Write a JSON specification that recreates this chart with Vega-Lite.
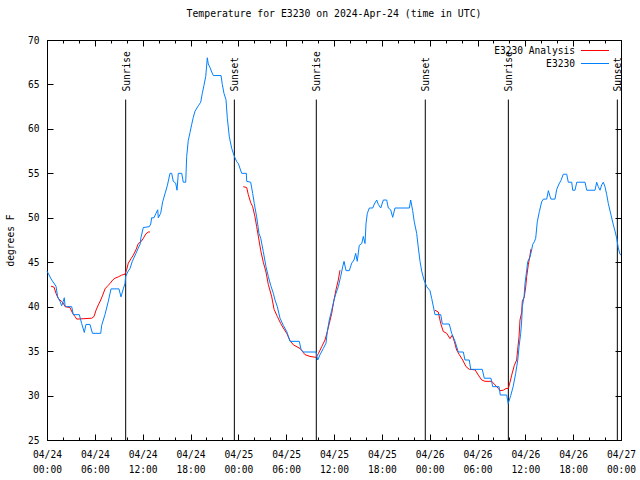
{
  "$schema": "https://vega.github.io/schema/vega-lite/v6.json",
  "width": 574,
  "height": 400,
  "autosize": {"type": "none"},
  "padding": {"left": 47, "top": 40, "right": 19, "bottom": 40},
  "background": "white",
  "title": {"text": "Temperature for E3230 on 2024-Apr-24 (time in UTC)", "anchor": "middle", "font": "DejaVu Sans Mono", "fontSize": 9.8, "fontWeight": "normal", "color": "black", "offset": 16},
  "config": {
    "view": {"stroke": "black", "strokeWidth": 1},
    "axis": {"domainColor": "black", "tickColor": "black", "labelColor": "black", "labelFont": "DejaVu Sans Mono", "labelFontSize": 9.6, "titleFont": "DejaVu Sans Mono", "titleFontSize": 9.6, "titleFontWeight": "normal", "titleColor": "black", "grid": false, "labelFlush": false, "labelOverlap": false, "labelBound": false}
  },
  "datasets": {
    "sun": [
      {"hour": 9.87, "label": "Sunrise"},
      {"hour": 23.5, "label": "Sunset"},
      {"hour": 33.78, "label": "Sunrise"},
      {"hour": 47.45, "label": "Sunset"},
      {"hour": 57.87, "label": "Sunrise"},
      {"hour": 71.54, "label": "Sunset"}
    ],
    "obs": [
      {"series":"E3230","seg":0,"hour":0,"temp":44.0},{"series":"E3230","seg":0,"hour":0.59,"temp":43.0},{"series":"E3230","seg":0,"hour":1.13,"temp":42.3},{"series":"E3230","seg":0,"hour":1.34,"temp":41.1},{"series":"E3230","seg":0,"hour":1.63,"temp":40.6},{"series":"E3230","seg":0,"hour":1.84,"temp":40.1},{"series":"E3230","seg":0,"hour":2.04,"temp":40.6},{"series":"E3230","seg":0,"hour":2.17,"temp":41.0},{"series":"E3230","seg":0,"hour":2.26,"temp":40.1},{"series":"E3230","seg":0,"hour":2.47,"temp":40.0},{"series":"E3230","seg":0,"hour":3.10,"temp":40.0},{"series":"E3230","seg":0,"hour":3.30,"temp":39.1},{"series":"E3230","seg":0,"hour":4.05,"temp":39.1},{"series":"E3230","seg":0,"hour":4.35,"temp":38.1},{"series":"E3230","seg":0,"hour":4.68,"temp":37.1},{"series":"E3230","seg":0,"hour":4.89,"temp":38.0},{"series":"E3230","seg":0,"hour":5.39,"temp":38.0},{"series":"E3230","seg":0,"hour":5.70,"temp":37.0},{"series":"E3230","seg":0,"hour":6.74,"temp":37.0},{"series":"E3230","seg":0,"hour":6.86,"temp":37.9},{"series":"E3230","seg":0,"hour":7.27,"temp":39.1},{"series":"E3230","seg":0,"hour":7.69,"temp":40.6},{"series":"E3230","seg":0,"hour":8.03,"temp":42.0},{"series":"E3230","seg":0,"hour":9.03,"temp":42.0},{"series":"E3230","seg":0,"hour":9.28,"temp":41.1},{"series":"E3230","seg":0,"hour":9.57,"temp":42.0},{"series":"E3230","seg":0,"hour":9.78,"temp":42.6},{"series":"E3230","seg":0,"hour":9.87,"temp":43.4},{"series":"E3230","seg":0,"hour":10.12,"temp":43.9},{"series":"E3230","seg":0,"hour":10.41,"temp":44.3},{"series":"E3230","seg":0,"hour":10.70,"temp":45.1},{"series":"E3230","seg":0,"hour":11.16,"temp":46.0},{"series":"E3230","seg":0,"hour":11.45,"temp":46.6},{"series":"E3230","seg":0,"hour":11.67,"temp":47.0},{"series":"E3230","seg":0,"hour":11.79,"temp":47.8},{"series":"E3230","seg":0,"hour":12.08,"temp":48.9},{"series":"E3230","seg":0,"hour":12.83,"temp":49.0},{"series":"E3230","seg":0,"hour":13.01,"temp":49.3},{"series":"E3230","seg":0,"hour":13.13,"temp":50.0},{"series":"E3230","seg":0,"hour":13.42,"temp":50.0},{"series":"E3230","seg":0,"hour":13.67,"temp":50.5},{"series":"E3230","seg":0,"hour":13.89,"temp":50.9},{"series":"E3230","seg":0,"hour":13.96,"temp":50.0},{"series":"E3230","seg":0,"hour":14.26,"temp":50.5},{"series":"E3230","seg":0,"hour":14.51,"temp":51.8},{"series":"E3230","seg":0,"hour":14.80,"temp":52.7},{"series":"E3230","seg":0,"hour":15.09,"temp":53.6},{"series":"E3230","seg":0,"hour":15.43,"temp":55.0},{"series":"E3230","seg":0,"hour":15.64,"temp":55.0},{"series":"E3230","seg":0,"hour":15.84,"temp":54.1},{"series":"E3230","seg":0,"hour":16.14,"temp":53.9},{"series":"E3230","seg":0,"hour":16.31,"temp":53.1},{"series":"E3230","seg":0,"hour":16.47,"temp":55.0},{"series":"E3230","seg":0,"hour":16.90,"temp":55.0},{"series":"E3230","seg":0,"hour":17.10,"temp":54.0},{"series":"E3230","seg":0,"hour":17.40,"temp":54.0},{"series":"E3230","seg":0,"hour":17.52,"temp":56.9},{"series":"E3230","seg":0,"hour":17.72,"temp":58.7},{"series":"E3230","seg":0,"hour":17.94,"temp":59.6},{"series":"E3230","seg":0,"hour":18.15,"temp":60.5},{"series":"E3230","seg":0,"hour":18.35,"temp":61.3},{"series":"E3230","seg":0,"hour":18.57,"temp":62.0},{"series":"E3230","seg":0,"hour":18.98,"temp":62.6},{"series":"E3230","seg":0,"hour":19.28,"temp":63.0},{"series":"E3230","seg":0,"hour":19.48,"temp":64.0},{"series":"E3230","seg":0,"hour":19.69,"temp":64.9},{"series":"E3230","seg":0,"hour":19.91,"temp":65.9},{"series":"E3230","seg":0,"hour":20.11,"temp":68.0},{"series":"E3230","seg":0,"hour":20.23,"temp":67.3},{"series":"E3230","seg":0,"hour":20.45,"temp":66.9},{"series":"E3230","seg":0,"hour":20.66,"temp":66.4},{"series":"E3230","seg":0,"hour":20.86,"temp":66.0},{"series":"E3230","seg":0,"hour":21.83,"temp":66.0},{"series":"E3230","seg":0,"hour":21.99,"temp":65.0},{"series":"E3230","seg":0,"hour":22.20,"temp":64.0},{"series":"E3230","seg":0,"hour":22.45,"temp":63.3},{"series":"E3230","seg":0,"hour":22.62,"temp":61.2},{"series":"E3230","seg":0,"hour":22.87,"temp":59.1},{"series":"E3230","seg":0,"hour":23.17,"temp":57.8},{"series":"E3230","seg":0,"hour":23.46,"temp":57.0},{"series":"E3230","seg":0,"hour":23.80,"temp":56.3},{"series":"E3230","seg":0,"hour":24.00,"temp":56.1},{"series":"E3230","seg":0,"hour":24.42,"temp":55.0},{"series":"E3230","seg":0,"hour":25.00,"temp":55.0},{"series":"E3230","seg":0,"hour":25.05,"temp":54.1},{"series":"E3230","seg":0,"hour":25.55,"temp":54.0},{"series":"E3230","seg":0,"hour":25.80,"temp":52.75},{"series":"E3230","seg":0,"hour":26.00,"temp":51.6},{"series":"E3230","seg":0,"hour":26.30,"temp":50.1},{"series":"E3230","seg":0,"hour":26.59,"temp":48.25},{"series":"E3230","seg":0,"hour":26.81,"temp":47.7},{"series":"E3230","seg":0,"hour":27.13,"temp":46.2},{"series":"E3230","seg":0,"hour":27.47,"temp":44.5},{"series":"E3230","seg":0,"hour":27.76,"temp":43.4},{"series":"E3230","seg":0,"hour":28.06,"temp":42.4},{"series":"E3230","seg":0,"hour":28.39,"temp":41.5},{"series":"E3230","seg":0,"hour":28.60,"temp":40.75},{"series":"E3230","seg":0,"hour":28.89,"temp":40.0},{"series":"E3230","seg":0,"hour":29.23,"temp":38.7},{"series":"E3230","seg":0,"hour":29.64,"temp":37.9},{"series":"E3230","seg":0,"hour":30.07,"temp":37.2},{"series":"E3230","seg":0,"hour":30.48,"temp":36.1},{"series":"E3230","seg":0,"hour":31.65,"temp":36.1},{"series":"E3230","seg":0,"hour":31.86,"temp":35.2},{"series":"E3230","seg":0,"hour":32.15,"temp":34.9},{"series":"E3230","seg":0,"hour":33.74,"temp":34.9},{"series":"E3230","seg":0,"hour":33.96,"temp":34.0},{"series":"E3230","seg":0,"hour":34.25,"temp":34.6},{"series":"E3230","seg":0,"hour":34.66,"temp":35.3},{"series":"E3230","seg":0,"hour":35.00,"temp":35.9},{"series":"E3230","seg":0,"hour":35.16,"temp":37.2},{"series":"E3230","seg":0,"hour":35.41,"temp":38.5},{"series":"E3230","seg":0,"hour":35.71,"temp":39.6},{"series":"E3230","seg":0,"hour":36.00,"temp":40.75},{"series":"E3230","seg":0,"hour":36.25,"temp":41.5},{"series":"E3230","seg":0,"hour":36.54,"temp":42.25},{"series":"E3230","seg":0,"hour":36.84,"temp":43.4},{"series":"E3230","seg":0,"hour":37.09,"temp":44.5},{"series":"E3230","seg":0,"hour":37.26,"temp":45.1},{"series":"E3230","seg":0,"hour":37.51,"temp":44.05},{"series":"E3230","seg":0,"hour":37.92,"temp":44.05},{"series":"E3230","seg":0,"hour":38.22,"temp":44.9},{"series":"E3230","seg":0,"hour":38.51,"temp":45.25},{"series":"E3230","seg":0,"hour":38.72,"temp":46.0},{"series":"E3230","seg":0,"hour":38.92,"temp":45.1},{"series":"E3230","seg":0,"hour":39.17,"temp":46.9},{"series":"E3230","seg":0,"hour":39.48,"temp":47.1},{"series":"E3230","seg":0,"hour":39.68,"temp":47.9},{"series":"E3230","seg":0,"hour":39.89,"temp":47.1},{"series":"E3230","seg":0,"hour":40.02,"temp":49.4},{"series":"E3230","seg":0,"hour":40.18,"temp":50.5},{"series":"E3230","seg":0,"hour":40.43,"temp":51.1},{"series":"E3230","seg":0,"hour":40.86,"temp":51.1},{"series":"E3230","seg":0,"hour":41.06,"temp":51.55},{"series":"E3230","seg":0,"hour":41.36,"temp":52.0},{"series":"E3230","seg":0,"hour":41.56,"temp":51.5},{"series":"E3230","seg":0,"hour":41.86,"temp":51.1},{"series":"E3230","seg":0,"hour":42.19,"temp":52.0},{"series":"E3230","seg":0,"hour":42.61,"temp":52.0},{"series":"E3230","seg":0,"hour":42.81,"temp":51.1},{"series":"E3230","seg":0,"hour":43.11,"temp":50.9},{"series":"E3230","seg":0,"hour":43.36,"temp":50.05},{"series":"E3230","seg":0,"hour":43.65,"temp":51.1},{"series":"E3230","seg":0,"hour":45.45,"temp":51.1},{"series":"E3230","seg":0,"hour":45.62,"temp":52.0},{"series":"E3230","seg":0,"hour":45.87,"temp":50.8},{"series":"E3230","seg":0,"hour":46.07,"temp":49.55},{"series":"E3230","seg":0,"hour":46.37,"temp":48.25},{"series":"E3230","seg":0,"hour":46.58,"temp":46.6},{"series":"E3230","seg":0,"hour":46.79,"temp":45.1},{"series":"E3230","seg":0,"hour":47.00,"temp":44.0},{"series":"E3230","seg":0,"hour":47.29,"temp":43.0},{"series":"E3230","seg":0,"hour":47.63,"temp":42.25},{"series":"E3230","seg":0,"hour":48.04,"temp":41.8},{"series":"E3230","seg":0,"hour":48.26,"temp":40.9},{"series":"E3230","seg":0,"hour":48.67,"temp":39.1},{"series":"E3230","seg":0,"hour":49.39,"temp":39.1},{"series":"E3230","seg":0,"hour":49.59,"temp":38.05},{"series":"E3230","seg":0,"hour":50.46,"temp":38.05},{"series":"E3230","seg":0,"hour":50.76,"temp":37.0},{"series":"E3230","seg":0,"hour":51.18,"temp":36.1},{"series":"E3230","seg":0,"hour":51.59,"temp":34.9},{"series":"E3230","seg":0,"hour":52.22,"temp":34.9},{"series":"E3230","seg":0,"hour":52.43,"temp":34.0},{"series":"E3230","seg":0,"hour":52.97,"temp":34.0},{"series":"E3230","seg":0,"hour":53.15,"temp":32.95},{"series":"E3230","seg":0,"hour":54.60,"temp":32.95},{"series":"E3230","seg":0,"hour":54.85,"temp":31.95},{"series":"E3230","seg":0,"hour":55.69,"temp":31.95},{"series":"E3230","seg":0,"hour":55.91,"temp":31.0},{"series":"E3230","seg":0,"hour":56.70,"temp":31.0},{"series":"E3230","seg":0,"hour":56.86,"temp":30.06},{"series":"E3230","seg":0,"hour":57.66,"temp":30.06},{"series":"E3230","seg":0,"hour":57.85,"temp":29.1},{"series":"E3230","seg":0,"hour":58.17,"temp":30.0},{"series":"E3230","seg":0,"hour":58.47,"temp":31.0},{"series":"E3230","seg":0,"hour":58.79,"temp":32.5},{"series":"E3230","seg":0,"hour":59.05,"temp":34.0},{"series":"E3230","seg":0,"hour":59.21,"temp":35.5},{"series":"E3230","seg":0,"hour":59.42,"temp":37.0},{"series":"E3230","seg":0,"hour":59.55,"temp":38.5},{"series":"E3230","seg":0,"hour":59.62,"temp":40.0},{"series":"E3230","seg":0,"hour":59.84,"temp":41.1},{"series":"E3230","seg":0,"hour":59.96,"temp":42.6},{"series":"E3230","seg":0,"hour":60.17,"temp":44.1},{"series":"E3230","seg":0,"hour":60.30,"temp":45.06},{"series":"E3230","seg":0,"hour":60.59,"temp":45.6},{"series":"E3230","seg":0,"hour":60.80,"temp":46.4},{"series":"E3230","seg":0,"hour":60.92,"temp":47.0},{"series":"E3230","seg":0,"hour":61.13,"temp":47.3},{"series":"E3230","seg":0,"hour":61.30,"temp":47.7},{"series":"E3230","seg":0,"hour":61.50,"temp":49.55},{"series":"E3230","seg":0,"hour":61.76,"temp":50.7},{"series":"E3230","seg":0,"hour":62.05,"temp":51.8},{"series":"E3230","seg":0,"hour":62.26,"temp":52.1},{"series":"E3230","seg":0,"hour":62.68,"temp":52.1},{"series":"E3230","seg":0,"hour":62.89,"temp":53.05},{"series":"E3230","seg":0,"hour":63.10,"temp":52.4},{"series":"E3230","seg":0,"hour":63.22,"temp":52.1},{"series":"E3230","seg":0,"hour":63.72,"temp":52.1},{"series":"E3230","seg":0,"hour":63.94,"temp":53.2},{"series":"E3230","seg":0,"hour":64.22,"temp":53.8},{"series":"E3230","seg":0,"hour":64.47,"temp":54.2},{"series":"E3230","seg":0,"hour":64.76,"temp":54.9},{"series":"E3230","seg":0,"hour":65.19,"temp":54.9},{"series":"E3230","seg":0,"hour":65.39,"temp":54.0},{"series":"E3230","seg":0,"hour":65.82,"temp":54.0},{"series":"E3230","seg":0,"hour":65.94,"temp":53.1},{"series":"E3230","seg":0,"hour":66.23,"temp":53.1},{"series":"E3230","seg":0,"hour":66.45,"temp":54.0},{"series":"E3230","seg":0,"hour":67.49,"temp":54.0},{"series":"E3230","seg":0,"hour":67.70,"temp":53.1},{"series":"E3230","seg":0,"hour":68.74,"temp":53.1},{"series":"E3230","seg":0,"hour":68.95,"temp":54.0},{"series":"E3230","seg":0,"hour":69.15,"temp":53.5},{"series":"E3230","seg":0,"hour":69.37,"temp":53.1},{"series":"E3230","seg":0,"hour":69.58,"temp":53.7},{"series":"E3230","seg":0,"hour":69.78,"temp":54.0},{"series":"E3230","seg":0,"hour":69.99,"temp":53.5},{"series":"E3230","seg":0,"hour":70.21,"temp":52.6},{"series":"E3230","seg":0,"hour":70.41,"temp":51.6},{"series":"E3230","seg":0,"hour":70.75,"temp":50.3},{"series":"E3230","seg":0,"hour":71.04,"temp":49.2},{"series":"E3230","seg":0,"hour":71.25,"temp":48.5},{"series":"E3230","seg":0,"hour":71.46,"temp":47.7},{"series":"E3230","seg":0,"hour":71.66,"temp":46.6},{"series":"E3230","seg":0,"hour":71.88,"temp":45.9},{"series":"E3230","seg":0,"hour":72.0,"temp":45.8},
      {"series":"E3230 Analysis","seg":1,"hour":0.50,"temp":42.3},{"series":"E3230 Analysis","seg":1,"hour":0.88,"temp":42.2},{"series":"E3230 Analysis","seg":1,"hour":1.13,"temp":41.5},{"series":"E3230 Analysis","seg":1,"hour":1.42,"temp":40.9},{"series":"E3230 Analysis","seg":1,"hour":1.84,"temp":40.6},{"series":"E3230 Analysis","seg":1,"hour":2.04,"temp":40.4},{"series":"E3230 Analysis","seg":1,"hour":2.26,"temp":40.0},{"series":"E3230 Analysis","seg":1,"hour":2.88,"temp":39.9},{"series":"E3230 Analysis","seg":1,"hour":3.22,"temp":39.25},{"series":"E3230 Analysis","seg":1,"hour":3.51,"temp":38.9},{"series":"E3230 Analysis","seg":1,"hour":3.73,"temp":38.6},{"series":"E3230 Analysis","seg":1,"hour":5.61,"temp":38.7},{"series":"E3230 Analysis","seg":1,"hour":5.90,"temp":38.9},{"series":"E3230 Analysis","seg":1,"hour":6.15,"temp":39.6},{"series":"E3230 Analysis","seg":1,"hour":6.44,"temp":40.2},{"series":"E3230 Analysis","seg":1,"hour":6.74,"temp":40.75},{"series":"E3230 Analysis","seg":1,"hour":6.99,"temp":41.3},{"series":"E3230 Analysis","seg":1,"hour":7.28,"temp":42.0},{"series":"E3230 Analysis","seg":1,"hour":7.56,"temp":42.3},{"series":"E3230 Analysis","seg":1,"hour":7.90,"temp":42.6},{"series":"E3230 Analysis","seg":1,"hour":8.24,"temp":43.0},{"series":"E3230 Analysis","seg":1,"hour":8.53,"temp":43.2},{"series":"E3230 Analysis","seg":1,"hour":8.94,"temp":43.35},{"series":"E3230 Analysis","seg":1,"hour":9.37,"temp":43.55},{"series":"E3230 Analysis","seg":1,"hour":9.78,"temp":43.65},{"series":"E3230 Analysis","seg":1,"hour":10.00,"temp":44.2},{"series":"E3230 Analysis","seg":1,"hour":10.20,"temp":44.9},{"series":"E3230 Analysis","seg":1,"hour":10.54,"temp":45.4},{"series":"E3230 Analysis","seg":1,"hour":10.83,"temp":45.8},{"series":"E3230 Analysis","seg":1,"hour":11.16,"temp":46.4},{"series":"E3230 Analysis","seg":1,"hour":11.45,"temp":47.1},{"series":"E3230 Analysis","seg":1,"hour":11.79,"temp":47.3},{"series":"E3230 Analysis","seg":1,"hour":12.08,"temp":47.7},{"series":"E3230 Analysis","seg":1,"hour":12.42,"temp":48.2},{"series":"E3230 Analysis","seg":1,"hour":12.71,"temp":48.4},{"series":"E3230 Analysis","seg":1,"hour":12.92,"temp":48.4},
      {"series":"E3230 Analysis","seg":2,"hour":24.62,"temp":53.5},{"series":"E3230 Analysis","seg":2,"hour":25.05,"temp":53.4},{"series":"E3230 Analysis","seg":2,"hour":25.25,"temp":52.6},{"series":"E3230 Analysis","seg":2,"hour":25.55,"temp":51.7},{"series":"E3230 Analysis","seg":2,"hour":25.80,"temp":51.25},{"series":"E3230 Analysis","seg":2,"hour":26.09,"temp":50.1},{"series":"E3230 Analysis","seg":2,"hour":26.30,"temp":49.0},{"series":"E3230 Analysis","seg":2,"hour":26.59,"temp":47.5},{"series":"E3230 Analysis","seg":2,"hour":26.81,"temp":46.3},{"series":"E3230 Analysis","seg":2,"hour":27.13,"temp":45.0},{"series":"E3230 Analysis","seg":2,"hour":27.47,"temp":43.9},{"series":"E3230 Analysis","seg":2,"hour":27.76,"temp":42.5},{"series":"E3230 Analysis","seg":2,"hour":28.19,"temp":41.1},{"series":"E3230 Analysis","seg":2,"hour":28.48,"temp":39.7},{"series":"E3230 Analysis","seg":2,"hour":28.89,"temp":38.9},{"series":"E3230 Analysis","seg":2,"hour":29.32,"temp":38.1},{"series":"E3230 Analysis","seg":2,"hour":29.64,"temp":37.6},{"series":"E3230 Analysis","seg":2,"hour":30.07,"temp":37.0},{"series":"E3230 Analysis","seg":2,"hour":30.48,"temp":36.2},{"series":"E3230 Analysis","seg":2,"hour":30.90,"temp":35.7},{"series":"E3230 Analysis","seg":2,"hour":31.74,"temp":35.3},{"series":"E3230 Analysis","seg":2,"hour":32.36,"temp":34.6},{"series":"E3230 Analysis","seg":2,"hour":32.99,"temp":34.4},{"series":"E3230 Analysis","seg":2,"hour":33.74,"temp":34.3},{"series":"E3230 Analysis","seg":2,"hour":34.03,"temp":34.7},{"series":"E3230 Analysis","seg":2,"hour":34.46,"temp":35.5},{"series":"E3230 Analysis","seg":2,"hour":34.87,"temp":36.25},{"series":"E3230 Analysis","seg":2,"hour":35.16,"temp":37.2},{"series":"E3230 Analysis","seg":2,"hour":35.41,"temp":38.1},{"series":"E3230 Analysis","seg":2,"hour":35.71,"temp":39.25},{"series":"E3230 Analysis","seg":2,"hour":36.00,"temp":40.75},{"series":"E3230 Analysis","seg":2,"hour":36.25,"temp":41.9},{"series":"E3230 Analysis","seg":2,"hour":36.54,"temp":43.0},{"series":"E3230 Analysis","seg":2,"hour":36.75,"temp":44.1},
      {"series":"E3230 Analysis","seg":3,"hour":48.67,"temp":39.6},{"series":"E3230 Analysis","seg":3,"hour":49.08,"temp":39.4},{"series":"E3230 Analysis","seg":3,"hour":49.39,"temp":38.1},{"series":"E3230 Analysis","seg":3,"hour":49.71,"temp":37.2},{"series":"E3230 Analysis","seg":3,"hour":50.14,"temp":37.0},{"series":"E3230 Analysis","seg":3,"hour":50.55,"temp":36.4},{"series":"E3230 Analysis","seg":3,"hour":50.84,"temp":36.8},{"series":"E3230 Analysis","seg":3,"hour":51.09,"temp":36.1},{"series":"E3230 Analysis","seg":3,"hour":51.39,"temp":35.1},{"series":"E3230 Analysis","seg":3,"hour":51.72,"temp":34.6},{"series":"E3230 Analysis","seg":3,"hour":52.14,"temp":34.0},{"series":"E3230 Analysis","seg":3,"hour":52.56,"temp":33.25},{"series":"E3230 Analysis","seg":3,"hour":52.97,"temp":32.95},{"series":"E3230 Analysis","seg":3,"hour":53.69,"temp":32.9},{"series":"E3230 Analysis","seg":3,"hour":54.10,"temp":32.3},{"series":"E3230 Analysis","seg":3,"hour":54.53,"temp":31.75},{"series":"E3230 Analysis","seg":3,"hour":54.94,"temp":31.6},{"series":"E3230 Analysis","seg":3,"hour":55.78,"temp":31.6},{"series":"E3230 Analysis","seg":3,"hour":56.20,"temp":31.2},{"series":"E3230 Analysis","seg":3,"hour":56.61,"temp":30.8},{"series":"E3230 Analysis","seg":3,"hour":56.82,"temp":30.55},{"series":"E3230 Analysis","seg":3,"hour":57.24,"temp":30.6},{"series":"E3230 Analysis","seg":3,"hour":57.58,"temp":30.8},{"series":"E3230 Analysis","seg":3,"hour":57.87,"temp":30.8},{"series":"E3230 Analysis","seg":3,"hour":58.08,"temp":31.5},{"series":"E3230 Analysis","seg":3,"hour":58.29,"temp":32.3},{"series":"E3230 Analysis","seg":3,"hour":58.62,"temp":33.4},{"series":"E3230 Analysis","seg":3,"hour":58.91,"temp":34.0},{"series":"E3230 Analysis","seg":3,"hour":59.03,"temp":35.1},{"series":"E3230 Analysis","seg":3,"hour":59.21,"temp":36.6},{"series":"E3230 Analysis","seg":3,"hour":59.33,"temp":38.5},{"series":"E3230 Analysis","seg":3,"hour":59.55,"temp":39.4},{"series":"E3230 Analysis","seg":3,"hour":59.62,"temp":40.6},{"series":"E3230 Analysis","seg":3,"hour":59.87,"temp":41.1},{"series":"E3230 Analysis","seg":3,"hour":60.05,"temp":42.25},{"series":"E3230 Analysis","seg":3,"hour":60.17,"temp":43.4},{"series":"E3230 Analysis","seg":3,"hour":60.37,"temp":44.7},{"series":"E3230 Analysis","seg":3,"hour":60.59,"temp":45.8},{"series":"E3230 Analysis","seg":3,"hour":60.71,"temp":46.5}
    ]
  },
  "layer": [
    {
      "data": {"name": "sun"},
      "mark": {"type": "rule", "color": "black", "strokeWidth": 1},
      "encoding": {
        "x": {"field": "hour", "type": "quantitative", "scale": {"domain": [0, 72], "nice": false, "zero": false},
              "axis": {"orient": "bottom", "values": [0,2,4,6,8,10,12,14,16,18,20,22,24,26,28,30,32,34,36,38,40,42,44,46,48,50,52,54,56,58,60,62,64,66,68,70,72], "tickSize": -3, "labels": false, "domain": false, "title": null}},
        "y": {"datum": 25, "type": "quantitative", "scale": {"domain": [25, 70], "nice": false, "zero": false}, "axis": null},
        "y2": {"datum": 63.3}
      }
    },
    {
      "data": {"name": "sun"},
      "mark": {"type": "text", "angle": 270, "align": "left", "baseline": "middle", "font": "DejaVu Sans Mono", "fontSize": 9.6, "color": "black", "dy": 1},
      "encoding": {
        "x": {"field": "hour", "type": "quantitative", "scale": {"domain": [0, 72], "nice": false, "zero": false},
              "axis": {"orient": "top", "values": [0,2,4,6,8,10,12,14,16,18,20,22,24,26,28,30,32,34,36,38,40,42,44,46,48,50,52,54,56,58,60,62,64,66,68,70,72], "tickSize": -3, "labels": false, "domain": false, "title": null}},
        "y": {"datum": 64.2, "type": "quantitative", "scale": {"domain": [25, 70], "nice": false, "zero": false}, "axis": null},
        "text": {"field": "label"}
      }
    },
    {
      "data": {"name": "obs"},
      "transform": [{"filter": "datum.series === 'E3230 Analysis'"}],
      "mark": {"type": "line", "strokeWidth": 1},
      "encoding": {
        "x": {"field": "hour", "type": "quantitative", "scale": {"domain": [0, 72], "nice": false, "zero": false},
              "axis": {"orient": "top", "values": [0,6,12,18,24,30,36,42,48,54,60,66,72], "tickSize": -6, "labels": false, "title": null}},
        "y": {"field": "temp", "type": "quantitative", "scale": {"domain": [25, 70], "nice": false, "zero": false},
              "axis": {"orient": "right", "values": [25,30,35,40,45,50,55,60,65,70], "tickSize": -6, "labels": false, "title": null}},
        "color": {"field": "series", "type": "nominal", "scale": {"domain": ["E3230 Analysis", "E3230"], "range": ["#ff0000", "#0080ff"]},
                  "legend": {"orient": "none", "legendX": 540.5, "legendY": 3, "padding": 0, "title": null, "symbolType": "M-2,0H2", "symbolSize": 196, "symbolStrokeWidth": 1, "labelAlign": "right", "labelOffset": -27.5, "labelFont": "DejaVu Sans Mono", "labelFontSize": 9.6, "labelColor": "black", "rowPadding": 0}},
        "detail": {"field": "seg"},
        "order": {"field": "hour", "type": "quantitative"}
      }
    },
    {
      "data": {"name": "obs"},
      "transform": [{"filter": "datum.series === 'E3230'"}],
      "mark": {"type": "line", "strokeWidth": 1},
      "encoding": {
        "x": {"field": "hour", "type": "quantitative", "scale": {"domain": [0, 72], "nice": false, "zero": false},
              "axis": {"orient": "bottom", "values": [0,6,12,18,24,30,36,42,48,54,60,66,72], "tickSize": -6, "labelPadding": 15, "labelBaseline": "top", "labelLineHeight": 15, "title": null,
                       "labelExpr": "['04/' + (24 + floor(datum.value / 24)), ((datum.value % 24) < 10 ? '0' : '') + (datum.value % 24) + ':00']"}},
        "y": {"field": "temp", "type": "quantitative", "scale": {"domain": [25, 70], "nice": false, "zero": false},
              "axis": {"orient": "left", "values": [25,30,35,40,45,50,55,60,65,70], "tickSize": -6, "labelPadding": 14, "title": "degrees F", "titlePadding": 12}},
        "color": {"field": "series", "type": "nominal", "scale": {"domain": ["E3230 Analysis", "E3230"], "range": ["#ff0000", "#0080ff"]}},
        "order": {"field": "hour", "type": "quantitative"}
      }
    }
  ],
  "resolve": {"axis": {"x": "independent", "y": "independent"}}
}
